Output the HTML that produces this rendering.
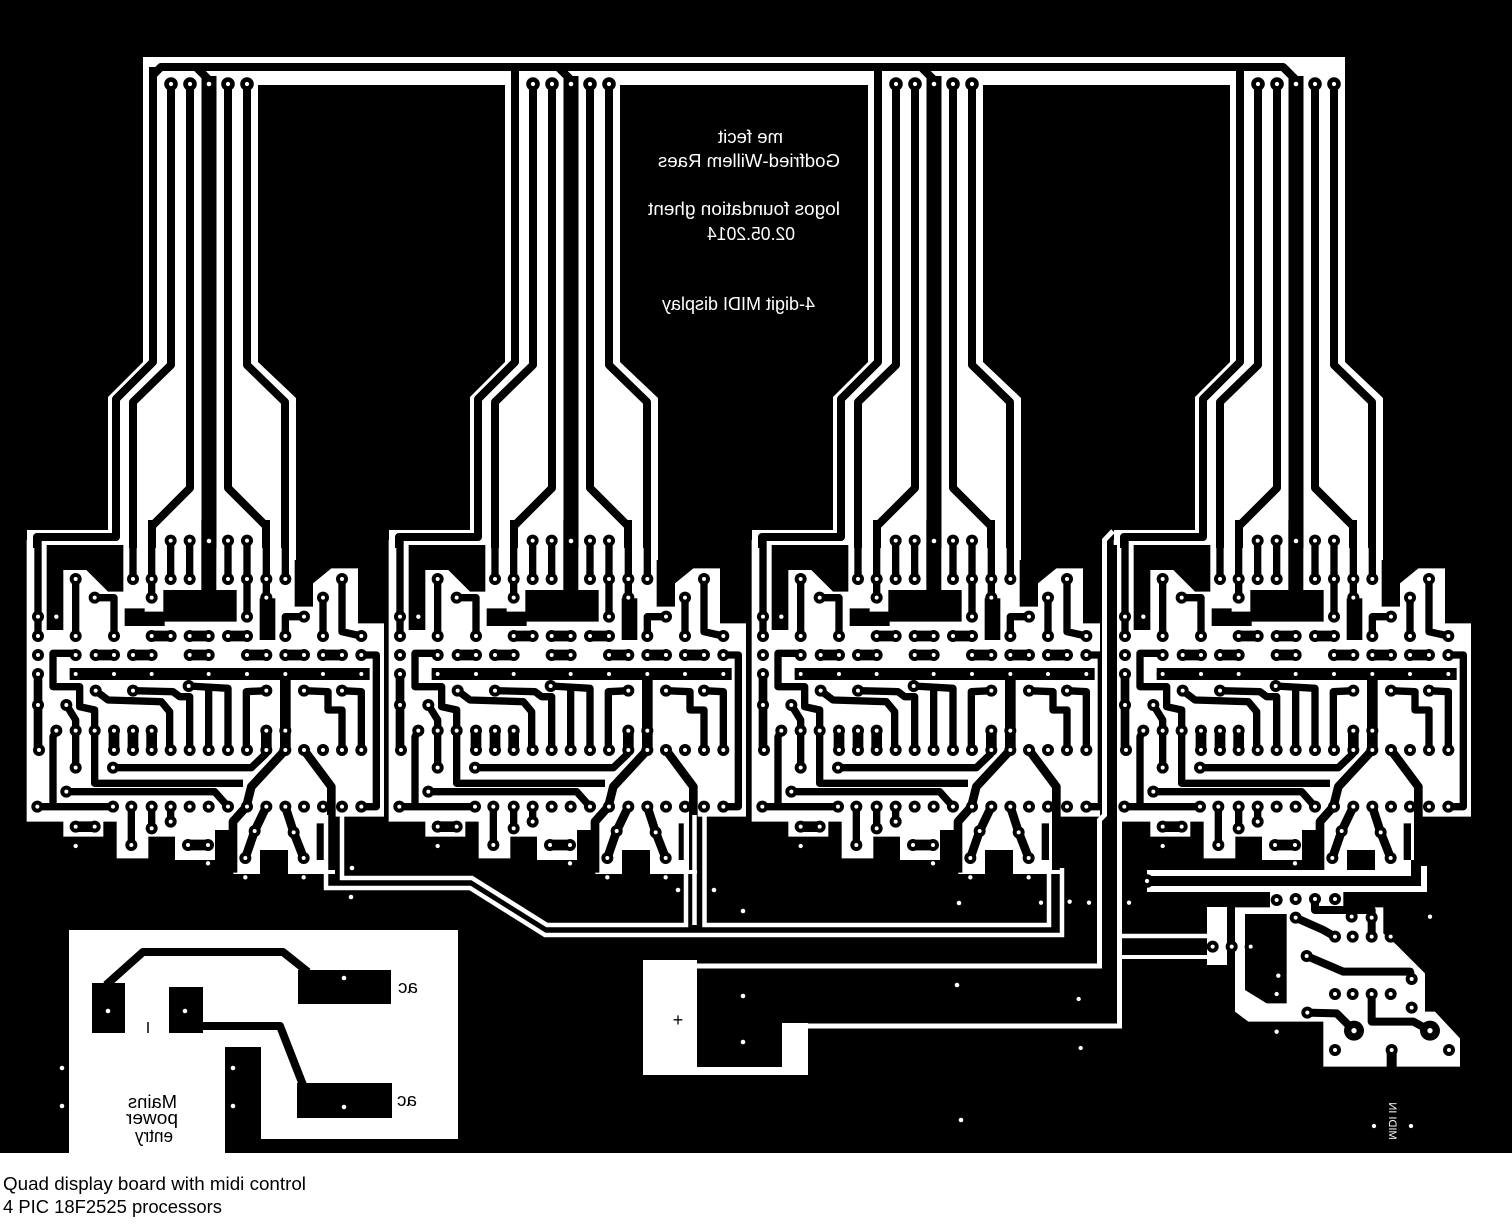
<!DOCTYPE html>
<html><head><meta charset="utf-8"><title>Quad display board</title>
<style>html,body{margin:0;padding:0;background:#fff;width:1512px;height:1231px;overflow:hidden}svg{display:block}</style></head>
<body>
<svg xmlns="http://www.w3.org/2000/svg" width="1512" height="1231" viewBox="0 0 1512 1231">
<defs>
<g id="P"><circle r="18"/><circle r="6" fill="#fff"/></g>
<circle id="H" r="6.5" fill="#fff"/>
<g id="p"><circle r="6.8"/><circle r="2.1" fill="#fff"/></g>
<circle id="h" r="2.3" fill="#fff"/>
<g id="fanw"><polygon fill="#fff" points="143,80 258,80 258,362 296,398 296,560 27,560 27,530 108,530 108,397 143,362"/></g>
<g id="fant" fill="none" stroke="#000" stroke-linejoin="round">
 <polyline stroke-width="8" points="153,67 153,362 116,399 116,537 37,537 37,548"/>
 <polyline stroke-width="8" points="171,84 171,365 133,402 133,548"/>
 <polyline stroke-width="8" points="190,84 190,488 152,526 152,548"/>
 <polyline stroke-width="8" points="228,84 228,488 266,526 266,548"/>
 <polyline stroke-width="8" points="247,84 247,365 285,402 285,548"/>
 <polyline stroke-width="15" points="209,76 209,548"/>
 <polyline stroke-width="8" points="196,67 209,80"/>
</g>
<g id="fanp">
 <use href="#p" x="171" y="84"/><use href="#p" x="190" y="84"/><use href="#p" x="228" y="84"/><use href="#p" x="247" y="84"/>
 <use href="#h" x="209" y="84"/><use href="#h" x="209" y="541"/>
</g>
<g id="mod">
 <polygon fill="#fff" points="86,60 376,60 376,0 890,0 890,260 945,260 945,190 1000,145 1080,145 1080,310 1158,310 1158,890 1011,890 1011,1062 706,1062 706,930 651,930 651,1020 531,1020 531,950 451,950 451,1015 356,1015 356,905 316,905 316,950 196,950 196,905 86,905"/>
 <polygon points="146,75 376,75 376,215 330,215 265,150 196,150 196,330 146,330"/>
 <polygon points="610,0 655,0 655,210 716,210 716,305 500,305 500,318 380,318 380,265 440,265 440,275 496,275 496,210 610,210"/>
 <rect x="785" y="235" width="47" height="125"/>
 <rect x="786" y="990" width="84" height="72"/>
 <g fill="none" stroke="#000" stroke-linejoin="round" stroke-width="22">
  <polyline points="120,60 120,350"/>
  <polyline points="233,177 233,348"/>
  <polyline points="290,233 348,233 348,348"/>
  <polyline points="461,177 461,233"/>
  <polyline points="405,0 405,177"/>
  <polyline points="461,0 461,177"/>
  <polyline points="518,62 518,177"/>
  <polyline points="575,62 575,177"/>
  <polyline points="690,62 690,177"/>
  <polyline points="747,62 747,290"/>
  <polyline points="805,0 805,233"/>
  <polyline points="862,0 862,177"/>
  <polyline points="862,348 862,290 918,290"/>
  <polyline points="975,233 975,348"/>
  <polyline points="1032,177 1032,335 1090,348"/>
  <polyline points="1090,405 1135,405 1135,860 1090,860"/>
  <polyline points="233,400 165,400 165,500 245,500 245,560 290,570 290,790 735,790"/>
  <polyline points="293,512 330,540 490,545 515,575 515,690"/>
  <polyline points="405,512 525,515 545,530 575,530 575,690"/>
  <polyline points="572,498 690,505 690,690"/>
  <polyline points="805,512 745,515 745,690"/>
  <polyline points="632,505 632,690"/>
  <polyline points="918,512 990,515 990,570 1032,570 1032,690"/>
  <polyline points="1032,512 1090,515 1090,690"/>
  <polyline points="345,743 760,743 805,700"/>
  <polyline points="205,815 650,815 690,860"/>
  <polyline points="118,860 345,860"/>
  <polyline points="175,632 165,650 165,860"/>
  <polyline points="233,632 233,743"/>
  <polyline points="205,555 233,600 233,632"/>
  <polyline points="461,860 461,925"/>
  <polyline points="518,860 518,905"/>
  <polyline points="400,860 400,975"/>
  <polyline points="967,910 967,1020"/>
 </g>
 <g fill="none" stroke="#000" stroke-linejoin="round" stroke-width="26">
  <polyline points="862,690 760,800 745,860 705,905 705,1058"/>
  <polyline points="918,690 1000,800 1000,1050"/>
  <polyline points="805,860 770,933 742,1014"/>
  <polyline points="862,860 887,937 917,1014"/>
  <polyline points="120,462 120,690"/>
 </g>
 <g fill="none" stroke="#000" stroke-width="32">
  <line x1="461" y1="348" x2="518" y2="348"/><line x1="575" y1="348" x2="632" y2="348"/><line x1="690" y1="348" x2="747" y2="348"/>
  <line x1="293" y1="405" x2="348" y2="405"/><line x1="405" y1="405" x2="461" y2="405"/><line x1="575" y1="405" x2="632" y2="405"/>
  <line x1="747" y1="405" x2="805" y2="405"/><line x1="862" y1="405" x2="918" y2="405"/><line x1="975" y1="405" x2="1032" y2="405"/>
  <line x1="348" y1="632" x2="348" y2="690"/><line x1="405" y1="632" x2="405" y2="690"/><line x1="461" y1="632" x2="461" y2="690"/>
  <line x1="233" y1="920" x2="290" y2="920"/><line x1="570" y1="975" x2="630" y2="975"/>
  <line x1="862" y1="462" x2="862" y2="690"/><line x1="805" y1="632" x2="805" y2="690"/>
  <line x1="215" y1="462" x2="1115" y2="462" stroke-width="36"/>
 </g>
 <use href="#P" x="518" y="62"/><use href="#P" x="575" y="62"/><use href="#P" x="690" y="62"/><use href="#P" x="747" y="62"/>
 <use href="#P" x="233" y="177"/><use href="#P" x="405" y="177"/><use href="#P" x="461" y="177"/><use href="#P" x="518" y="177"/><use href="#P" x="575" y="177"/><use href="#P" x="690" y="177"/><use href="#P" x="747" y="177"/><use href="#P" x="805" y="177"/><use href="#P" x="862" y="177"/><use href="#P" x="1032" y="177"/>
 <use href="#P" x="290" y="233"/><use href="#P" x="461" y="233"/><use href="#P" x="805" y="233"/><use href="#P" x="975" y="233"/>
 <use href="#P" x="120" y="290"/><use href="#P" x="747" y="290"/><use href="#P" x="918" y="290"/>
 <use href="#P" x="120" y="348"/><use href="#P" x="233" y="348"/><use href="#P" x="348" y="348"/><use href="#P" x="461" y="348"/><use href="#P" x="518" y="348"/><use href="#P" x="575" y="348"/><use href="#P" x="632" y="348"/><use href="#P" x="690" y="348"/><use href="#P" x="747" y="348"/><use href="#P" x="862" y="348"/><use href="#P" x="975" y="348"/><use href="#P" x="1090" y="348"/>
 <use href="#P" x="120" y="405"/><use href="#P" x="233" y="405"/><use href="#P" x="293" y="405"/><use href="#P" x="348" y="405"/><use href="#P" x="405" y="405"/><use href="#P" x="461" y="405"/><use href="#P" x="575" y="405"/><use href="#P" x="632" y="405"/><use href="#P" x="747" y="405"/><use href="#P" x="805" y="405"/><use href="#P" x="862" y="405"/><use href="#P" x="918" y="405"/><use href="#P" x="975" y="405"/><use href="#P" x="1032" y="405"/><use href="#P" x="1090" y="405"/>
 <use href="#P" x="120" y="462"/><use href="#P" x="233" y="462"/><use href="#P" x="348" y="462"/><use href="#P" x="461" y="462"/><use href="#P" x="632" y="462"/><use href="#P" x="747" y="462"/><use href="#P" x="862" y="462"/><use href="#P" x="975" y="462"/><use href="#P" x="1090" y="462"/>
 <use href="#P" x="572" y="498"/>
 <use href="#P" x="293" y="512"/><use href="#P" x="405" y="512"/><use href="#P" x="805" y="512"/><use href="#P" x="918" y="512"/><use href="#P" x="1032" y="512"/>
 <use href="#P" x="120" y="555"/><use href="#P" x="205" y="555"/>
 <use href="#P" x="175" y="632"/><use href="#P" x="233" y="632"/><use href="#P" x="290" y="632"/><use href="#P" x="348" y="632"/><use href="#P" x="405" y="632"/><use href="#P" x="461" y="632"/><use href="#P" x="805" y="632"/><use href="#P" x="862" y="632"/>
 <use href="#P" x="123" y="690"/><use href="#P" x="348" y="690"/><use href="#P" x="405" y="690"/><use href="#P" x="461" y="690"/><use href="#P" x="518" y="690"/><use href="#P" x="575" y="690"/><use href="#P" x="632" y="690"/><use href="#P" x="690" y="690"/><use href="#P" x="747" y="690"/><use href="#P" x="805" y="690"/><use href="#P" x="862" y="690"/><use href="#P" x="918" y="690"/><use href="#P" x="975" y="690"/><use href="#P" x="1032" y="690"/><use href="#P" x="1090" y="690"/>
 <use href="#P" x="233" y="743"/><use href="#P" x="345" y="743"/>
 <use href="#P" x="205" y="815"/>
 <use href="#P" x="118" y="860"/><use href="#P" x="345" y="860"/><use href="#P" x="400" y="860"/><use href="#P" x="461" y="860"/><use href="#P" x="518" y="860"/><use href="#P" x="575" y="860"/><use href="#P" x="632" y="860"/><use href="#P" x="690" y="860"/><use href="#P" x="747" y="860"/><use href="#P" x="805" y="860"/><use href="#P" x="862" y="860"/><use href="#P" x="918" y="860"/><use href="#P" x="975" y="860"/><use href="#P" x="1032" y="860"/><use href="#P" x="1090" y="860"/>
 <use href="#P" x="461" y="925"/><use href="#P" x="518" y="905"/><use href="#P" x="233" y="920"/><use href="#P" x="290" y="920"/><use href="#P" x="770" y="933"/><use href="#P" x="887" y="937"/><use href="#P" x="400" y="975"/><use href="#P" x="570" y="975"/><use href="#P" x="630" y="975"/><use href="#P" x="742" y="1014"/><use href="#P" x="917" y="1014"/>
 <use href="#H" x="175" y="290"/><use href="#H" x="233" y="978"/><use href="#H" x="630" y="1030"/><use href="#H" x="742" y="1072"/><use href="#H" x="917" y="1072"/>
</g>
</defs>

<!-- board background -->
<rect x="0" y="0" width="1512" height="1153" fill="#000"/>
<rect x="143" y="57" width="1202" height="28" fill="#fff"/>

<!-- fan white areas -->
<use href="#fanw"/>
<use href="#fanw" transform="translate(362,0)"/>
<use href="#fanw" transform="translate(725,0)"/>
<use href="#fanw" transform="translate(1087,0)"/>

<!-- lower modules -->
<use href="#mod" transform="translate(-2,520) scale(0.33333)"/>
<use href="#mod" transform="translate(360,520) scale(0.33333)"/>
<use href="#mod" transform="translate(723,520) scale(0.33333)"/>
<use href="#mod" transform="translate(1085,520) scale(0.33333)"/>

<!-- gap between module 3 and 4 -->
<rect x="1100" y="545" width="17" height="362" fill="#000"/>

<!-- fan traces -->
<use href="#fant"/>
<use href="#fant" transform="translate(362,0)"/>
<use href="#fant" transform="translate(725,0)"/>
<use href="#fant" transform="translate(1087,0)"/>
<polyline points="153,120 153,75 161,67 1283,67 1296,80" fill="none" stroke="#000" stroke-width="8" stroke-linejoin="round"/>
<use href="#fanp"/>
<use href="#fanp" transform="translate(362,0)"/>
<use href="#fanp" transform="translate(725,0)"/>
<use href="#fanp" transform="translate(1087,0)"/>

<!-- bottom isolation lines -->
<g fill="none" stroke="#fff" stroke-width="4.5" stroke-linejoin="miter">
 <polyline points="326,815 326,888 470,888 545,935 1062,935 1062,868"/>
 <polyline points="342,815 342,878 472,878 547,925 686,925 686,815"/>
 <polyline points="694.5,815 694.5,925"/>
 <polyline points="704.5,815 704.5,925 1049,925 1049,868"/>
 <polyline points="1113,531 1104.5,540 1104.5,815 1099.5,820 1099.5,966 643,966" stroke-width="5"/>
 <polyline points="1119.5,815 1119.5,1026 782,1026" stroke-width="5"/>
 <polyline points="1119.5,936 1207,936"/>
 <polyline points="1119.5,957 1207,957" stroke-width="4"/>
</g>
<rect x="1207" y="907" width="20" height="58" fill="#fff"/>

<!-- + supply box -->
<rect x="643" y="960" width="54" height="115" fill="#fff"/>
<rect x="697" y="1067" width="111" height="8" fill="#fff"/>
<rect x="782" y="1023" width="26" height="52" fill="#fff"/>
<text x="678" y="1026" text-anchor="middle" font-family="'Liberation Sans', Arial, sans-serif" font-size="18" fill="#000">+</text>

<!-- mains power box -->
<rect x="69" y="930" width="389" height="223" fill="#fff"/>
<rect x="261" y="1139" width="197" height="14" fill="#000"/>
<rect x="225" y="1047" width="36" height="106" fill="#000"/>
<rect x="92" y="983" width="33" height="50" fill="#000"/>
<rect x="169" y="987" width="34" height="46" fill="#000"/>
<rect x="298" y="970" width="93" height="34" fill="#000"/>
<rect x="297" y="1083" width="95" height="35" fill="#000"/>
<polyline points="106,985 143,952 283,952 308,972" fill="none" stroke="#000" stroke-width="8" stroke-linejoin="round"/>
<polyline points="200,1026 280,1026 303,1085" fill="none" stroke="#000" stroke-width="8" stroke-linejoin="round"/>
<line x1="148" y1="1022" x2="148" y2="1033" stroke="#000" stroke-width="1.5"/>

<!-- MIDI trace to module 4 -->
<polyline points="1147,881 1416,881 1416,866" fill="none" stroke="#fff" stroke-width="22"/>
<polyline points="1147,881 1416,881 1416,860" fill="none" stroke="#000" stroke-width="10"/>
<use href="#p" x="1147" y="881"/>

<!-- MIDI circuit -->
<g transform="translate(1000,820) scale(0.33333)">
 <polygon fill="#fff" points="705,262 810,262 810,205 1030,205 1030,262 1150,262 1150,340 1190,375 1275,460 1275,575 1305,575 1380,655 1380,740 970,740 970,605 745,605 705,575"/>
 <polygon fill="#000" points="735,282 860,282 860,550 800,550 735,510"/>
 <g fill="none" stroke="#000" stroke-width="24" stroke-linejoin="round">
  <polyline points="887,293 970,330 1005,350"/>
  <polyline points="945,237 945,270 1115,270 1115,350"/>
  <polyline points="920,408 1030,455 1230,455 1235,477"/>
  <polyline points="1115,522 1115,605 1240,605 1290,632"/>
  <polyline points="922,578 1010,580 1062,632"/>
  <polyline points="1175,690 1175,745" stroke-width="30"/>
 </g>
 <circle cx="1062" cy="632" r="30"/><circle cx="1062" cy="632" r="8" fill="#fff"/>
 <circle cx="1290" cy="632" r="30"/><circle cx="1290" cy="632" r="8" fill="#fff"/>
 <use href="#P" x="830" y="240"/><use href="#P" x="887" y="237"/><use href="#P" x="945" y="237"/><use href="#P" x="1005" y="237"/>
 <use href="#P" x="887" y="293"/><use href="#P" x="1055" y="290"/><use href="#P" x="1115" y="293"/>
 <use href="#P" x="1005" y="350"/><use href="#P" x="1058" y="350"/><use href="#P" x="1115" y="350"/><use href="#P" x="1172" y="350"/>
 <use href="#P" x="920" y="408"/><use href="#P" x="1235" y="477"/>
 <use href="#P" x="1005" y="522"/><use href="#P" x="1058" y="522"/><use href="#P" x="1115" y="522"/><use href="#P" x="1172" y="522"/>
 <use href="#P" x="922" y="578"/><use href="#P" x="1235" y="563"/>
 <use href="#P" x="1005" y="690"/><use href="#P" x="1175" y="690"/><use href="#P" x="1347" y="690"/>
 <use href="#P" x="638" y="380"/><use href="#P" x="695" y="380"/><use href="#P" x="752" y="380"/>
 <use href="#H" x="835" y="467"/><use href="#H" x="830" y="522"/><use href="#H" x="830" y="635"/><use href="#H" x="1290" y="290"/>
 <use href="#H" x="1122" y="918"/><use href="#H" x="1233" y="918"/><use href="#H" x="123" y="248"/><use href="#H" x="209" y="245"/>
 <use href="#H" x="267" y="248"/><use href="#H" x="387" y="248"/><use href="#H" x="236" y="537"/><use href="#H" x="242" y="684"/>
</g>

<!-- loose holes -->
<g>
 <use href="#h" x="352" y="868"/><use href="#h" x="351" y="897"/><use href="#h" x="678" y="890"/><use href="#h" x="714" y="890"/>
 <use href="#h" x="743" y="911"/><use href="#h" x="959" y="903"/><use href="#h" x="957" y="985"/><use href="#h" x="961" y="1120"/>
 <use href="#h" x="743" y="996"/><use href="#h" x="743" y="1042"/><use href="#h" x="62" y="1068"/><use href="#h" x="62" y="1106"/>
 <use href="#h" x="233" y="1068"/><use href="#h" x="233" y="1106"/><use href="#h" x="108" y="1011"/><use href="#h" x="185" y="1011"/>
 <use href="#h" x="344" y="978"/><use href="#h" x="344" y="1107"/>
</g>

<!-- mirrored board texts -->
<g transform="scale(-1,1)" fill="#fff" font-family="'Liberation Sans', Arial, sans-serif" font-size="18">
 <text x="-783" y="143" textLength="65" lengthAdjust="spacingAndGlyphs">me fecit</text>
 <text x="-840" y="167" textLength="182" lengthAdjust="spacingAndGlyphs">Godfried-Willem Raes</text>
 <text x="-840" y="215" textLength="192" lengthAdjust="spacingAndGlyphs">logos foundation ghent</text>
 <text x="-795" y="240" textLength="88" lengthAdjust="spacingAndGlyphs">02.05.2014</text>
 <text x="-815" y="310" textLength="153" lengthAdjust="spacingAndGlyphs">4-digit MIDI display</text>
</g>
<g transform="scale(-1,1)" fill="#000" font-family="'Liberation Sans', Arial, sans-serif" font-size="18">
 <text x="-177" y="1108" textLength="49" lengthAdjust="spacingAndGlyphs">Mains</text>
 <text x="-178" y="1124" textLength="52" lengthAdjust="spacingAndGlyphs">power</text>
 <text x="-173" y="1142" textLength="38" lengthAdjust="spacingAndGlyphs">entry</text>
 <text x="-418" y="993" textLength="20" lengthAdjust="spacingAndGlyphs">ac</text>
 <text x="-417" y="1106" textLength="20" lengthAdjust="spacingAndGlyphs">ac</text>
</g>
<text transform="translate(1392,1121) rotate(90) scale(-1,1)" text-anchor="middle" dominant-baseline="central" font-family="'Liberation Sans', Arial, sans-serif" font-size="11" fill="#fff">MIDI IN</text>

<!-- caption -->
<g fill="#000" font-family="'Liberation Sans', Arial, sans-serif" font-size="18">
 <text x="3" y="1190" textLength="303" lengthAdjust="spacingAndGlyphs">Quad display board with midi control</text>
 <text x="3" y="1213" textLength="219" lengthAdjust="spacingAndGlyphs">4 PIC 18F2525 processors</text>
</g>
</svg>
</body></html>
